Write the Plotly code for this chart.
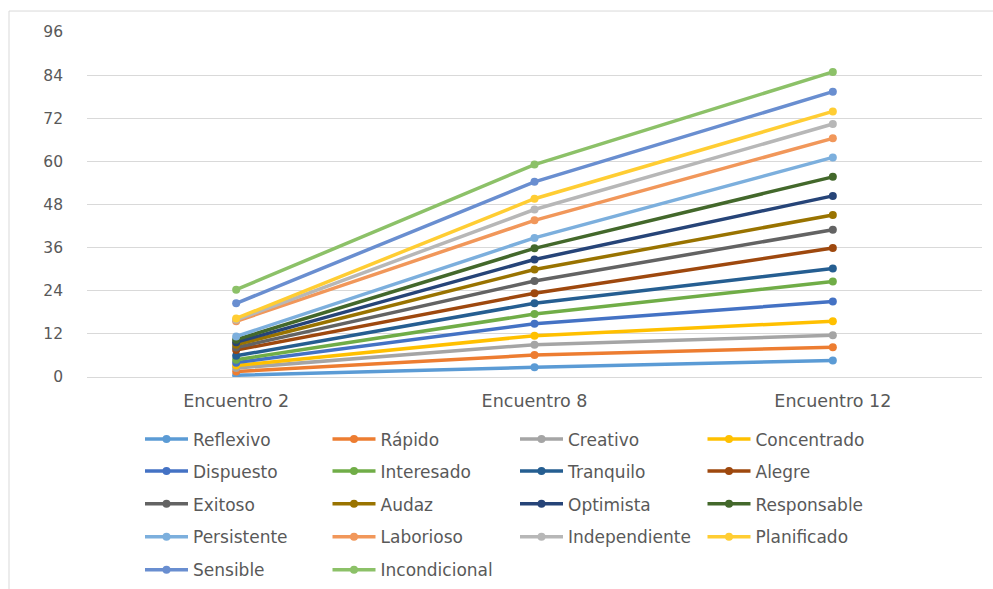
import plotly.graph_objects as go

# Sessions on the horizontal axis
encuentros = ["Encuentro 2", "Encuentro 8", "Encuentro 12"]

# Cumulative (stacked) level reached by each attribute at each session
reflexivo = [0.5, 2.7, 4.6]
rapido = [1.5, 6.1, 8.3]
creativo = [2.5, 9.0, 11.6]
concentrado = [3.2, 11.5, 15.5]
dispuesto = [4.0, 14.8, 21.0]
interesado = [4.8, 17.5, 26.6]
tranquilo = [5.9, 20.5, 30.2]
alegre = [7.5, 23.3, 35.9]
exitoso = [8.2, 26.7, 41.0]
audaz = [9.0, 29.9, 45.1]
optimista = [9.7, 32.7, 50.4]
responsable = [10.4, 35.8, 55.7]
persistente = [11.3, 38.7, 61.1]
laborioso = [15.5, 43.6, 66.4]
independiente = [15.9, 46.6, 70.4]
planificado = [16.3, 49.6, 73.9]
sensible = [20.5, 54.3, 79.4]
incondicional = [24.3, 59.1, 84.9]

series_names = ["Reflexivo", "Rápido", "Creativo", "Concentrado", "Dispuesto",
                "Interesado", "Tranquilo", "Alegre", "Exitoso", "Audaz",
                "Optimista", "Responsable", "Persistente", "Laborioso",
                "Independiente", "Planificado", "Sensible", "Incondicional"]
series_values = [reflexivo, rapido, creativo, concentrado, dispuesto, interesado,
                 tranquilo, alegre, exitoso, audaz, optimista, responsable,
                 persistente, laborioso, independiente, planificado, sensible,
                 incondicional]
series_colors = ["#5B9BD5", "#ED7D31", "#A5A5A5", "#FFC000", "#4472C4", "#70AD47",
                 "#255E91", "#9E480E", "#636363", "#997300", "#264478", "#43682B",
                 "#7CAFDD", "#F1975A", "#B7B7B7", "#FFCD33", "#698ED0", "#8CC168"]

y_ticks = [0, 12, 24, 36, 48, 60, 72, 84, 96]

FONT = "DejaVu Sans"
TXT = "#595959"
GRID = "#D9D9D9"

# pixel geometry of the plotting area
W, H = 993, 589
L, R, T, B = 87, 982, 32, 377.5
pw, ph = R - L, B - T


def px_x(p):
    return (p - L) / pw


def px_y(p):
    return (B - p) / ph


fig = go.Figure()

legend_names = ["legend", "legend2", "legend3", "legend4", "legend5"]
for i, (name, vals, col) in enumerate(zip(series_names, series_values, series_colors)):
    fig.add_trace(go.Scatter(
        x=encuentros, y=vals, name=name, mode="lines+markers",
        line=dict(color=col, width=3.5),
        marker=dict(color=col, size=8),
        legend=legend_names[i // 4],
    ))

row_y = [440, 472, 505, 538, 571]
legend_common = dict(
    orientation="h", xanchor="left", yanchor="middle",
    x=px_x(140), entrywidth=129.5, entrywidthmode="pixels",
    itemwidth=43,
    font=dict(family=FONT, size=17, color=TXT),
    bgcolor="rgba(0,0,0,0)", traceorder="normal",
)
layout_legends = {}
for name, py in zip(legend_names, row_y):
    layout_legends[name] = dict(legend_common, y=px_y(py))

fig.update_layout(
    width=W, height=H,
    margin=dict(l=L, r=W - R, t=T, b=H - B, pad=0, autoexpand=False),
    paper_bgcolor="white", plot_bgcolor="white",
    showlegend=True,
    font=dict(family=FONT, color=TXT),
    xaxis=dict(
        type="category", range=[-0.5, 2.5], showgrid=False,
        showline=True, linecolor=GRID, linewidth=1, ticks="",
        tickfont=dict(family=FONT, size=17.5, color=TXT),
        ticklabelstandoff=8, fixedrange=True,
    ),
    yaxis=dict(
        range=[0, 96], tickvals=y_ticks, showgrid=True, gridcolor=GRID,
        gridwidth=1, zeroline=False, showline=False, ticks="",
        tickfont=dict(family=FONT, size=15.5, color=TXT),
        ticklabelstandoff=23, fixedrange=True,
    ),
    shapes=[dict(
        type="rect", xref="paper", yref="paper",
        x0=px_x(9), x1=px_x(1005), y0=px_y(600), y1=px_y(11),
        line=dict(color=GRID, width=1), fillcolor="rgba(0,0,0,0)", layer="below",
    )],
    **layout_legends,
)

fig.write_html("out.html")
